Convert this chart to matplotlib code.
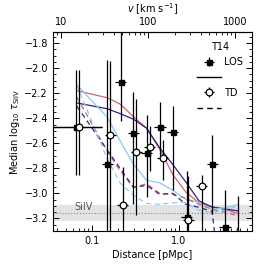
import numpy as np
import matplotlib
matplotlib.use("Agg")
import matplotlib.pyplot as plt
from matplotlib.lines import Line2D
from matplotlib.ticker import MultipleLocator, LogLocator, NullFormatter

plt.rcParams['font.family'] = ['DejaVu Sans']
plt.rcParams['mathtext.fontset'] = 'dejavusans'
plt.rcParams['font.size'] = 7

# colours (Tol muted)
ROSE = '#CC6677'
INDIGO = '#332288'
CYAN = '#88CCEE'

# observed points, line-of-sight (LOS)
los_dist = [0.0655, 0.150, 0.213, 0.298, 0.425, 0.605, 0.847, 1.226, 2.41, 3.38]
los_val = [-2.468, -2.768, -2.112, -2.514, -2.680, -2.466, -2.510, -3.190, -2.762, -3.266]
los_hi = [-2.016, -1.936, -1.600, -2.192, -2.376, -2.272, -2.300, -2.824, -2.536, -2.976]
los_lo = [-2.856, -3.450, -2.424, -3.088, -3.030, -2.700, -2.975, -3.450, -3.168, -3.500]

# observed points, transverse (TD)
td_dist = [0.071, 0.162, 0.226, 0.323, 0.461, 0.65, 1.28, 1.82, 4.75]
td_val = [-2.468, -2.534, -3.094, -2.670, -2.630, -2.714, -3.214, -2.940, -3.500]
td_hi = [-2.016, -1.940, -2.790, -2.250, -2.460, -2.570, -2.860, -2.850, -3.020]
td_lo = [-2.856, -3.450, -3.500, -3.170, -2.820, -2.890, -3.500, -3.400, -3.800]

# model curves
model_dist = [0.067, 0.15, 0.212, 0.30, 0.424, 0.60, 0.85, 1.2, 1.7, 2.4, 3.4, 4.8]
los_rose = [-2.180, -2.236, -2.288, -2.388, -2.478, -2.648, -2.850, -2.990, -3.076, -3.108, -3.128, -3.162]
los_indigo = [-2.278, -2.324, -2.364, -2.408, -2.480, -2.636, -2.770, -2.910, -3.060, -3.110, -3.125, -3.140]
los_cyan = [-2.134, -2.392, -2.584, -2.768, -2.896, -2.916, -2.976, -3.048, -3.072, -3.128, -3.116, -3.088]
td_rose = [-2.232, -2.664, -2.824, -2.952, -2.924, -3.000, -3.008, -3.040, -3.088, -3.128, -3.152, -3.180]
td_indigo = [-2.304, -2.656, -2.804, -2.952, -2.936, -3.008, -3.000, -3.088, -3.112, -3.144, -4.000, -3.240]
td_cyan = [-2.136, -2.728, -2.920, -3.016, -3.080, -3.088, -3.076, -3.072, -3.136, -3.152, -3.136, -3.100]

# SiIV detection limit band
siiv_limit = -3.158
siiv_band = (-3.218, -3.094)

H = 225.0  # km/s per pMpc


def xerrs(d, first_lo=None, first_hi=None):
    d = np.asarray(d)
    lo = d - d / 10 ** 0.065
    hi = d * 10 ** 0.065 - d
    if first_lo is not None:
        lo[0] = d[0] - first_lo
        hi[0] = first_hi - d[0]
    return [lo, hi]


fig = plt.figure(figsize=(2.66, 2.66), dpi=100)
ax = fig.add_axes([0.199, 0.132, 0.748, 0.748])

ax.axhspan(*siiv_band, color='#e3e3e3', lw=0, zorder=0)
ax.axhline(siiv_limit, color='#888888', ls=':', lw=0.8, zorder=1)
ax.text(0.062, siiv_limit + 0.005, 'SiIV', color='#555555', fontsize=7, va='bottom', zorder=2)

lw = 0.9
ax.plot(model_dist, los_rose, color=ROSE, lw=lw)
ax.plot(model_dist, los_indigo, color=INDIGO, lw=lw)
ax.plot(model_dist, los_cyan, color=CYAN, lw=lw)
ax.plot(model_dist, td_rose, color=ROSE, lw=lw, ls=(0, (4, 3)))
ax.plot(model_dist, td_indigo, color=INDIGO, lw=lw, ls=(0, (4, 3)))
ax.plot(model_dist, td_cyan, color=CYAN, lw=lw, ls=(0, (4, 3)))

los_v = np.array(los_val)
los_yerr = [los_v - np.array(los_lo), np.array(los_hi) - los_v]
los_eb = ax.errorbar(los_dist, los_val, yerr=los_yerr, xerr=xerrs(los_dist, 0.01, 0.13),
                     fmt='s', color='black', ms=3.6, elinewidth=0.9, capsize=0, zorder=5)

td_v = np.array(td_val)
td_yerr = [td_v - np.array(td_lo), np.array(td_hi) - td_v]
td_eb = ax.errorbar(td_dist, td_val, yerr=td_yerr, xerr=xerrs(td_dist, 0.01, 0.13),
                    fmt='o', color='black', mfc='white', mec='black', ms=4.8, mew=0.9,
                    elinewidth=0.9, capsize=0, zorder=6)

ax.set_xscale('log')
ax.set_xlim(0.0355, 6.9)
ax.set_ylim(-3.3, -1.71)
ax.set_xticks([0.1, 1.0], ['0.1', '1.0'])
ax.xaxis.set_minor_locator(LogLocator(base=10, subs=np.arange(2, 10)))
ax.xaxis.set_minor_formatter(NullFormatter())
ax.yaxis.set_major_locator(MultipleLocator(0.2))
ax.yaxis.set_minor_locator(MultipleLocator(0.05))
ax.tick_params(which='both', direction='in', right=True, top=False, labelsize=7)
ax.tick_params(which='major', length=4, width=0.7)
ax.tick_params(which='minor', length=2, width=0.6)
for s in ax.spines.values():
    s.set_linewidth(0.8)

ax.set_xlabel('Distance [pMpc]', fontsize=7, labelpad=3)
ax.set_ylabel(r'Median log$_{10}$ $\tau_{\mathrm{SiIV}}$', fontsize=7, labelpad=2)

sec = ax.secondary_xaxis('top', functions=(lambda d: d * H, lambda v: v / H))
sec.set_xticks([10, 100, 1000], ['10', '100', '1000'])
sec.xaxis.set_minor_locator(LogLocator(base=10, subs=np.arange(2, 10)))
sec.xaxis.set_minor_formatter(NullFormatter())
sec.tick_params(which='both', direction='in', labelsize=7)
sec.tick_params(which='major', length=4, width=0.7)
sec.tick_params(which='minor', length=2, width=0.6)
sec.set_xlabel(r'$v$ [km s$^{-1}$]', fontsize=7, labelpad=3)

handles = [los_eb, Line2D([], [], color='black', lw=1.0),
           td_eb, Line2D([], [], color='black', lw=1.0, ls=(0, (4, 3)))]
labels = ['LOS', ' ', 'TD', ' ']
leg = ax.legend(handles, labels, title='T14', loc='upper right', frameon=False,
                fontsize=7, title_fontsize=7, handlelength=2.5, handletextpad=0.3,
                labelspacing=0.55, borderaxespad=0.5, bbox_to_anchor=(1.0, 0.995))

fig.savefig('out.png', dpi=100)
